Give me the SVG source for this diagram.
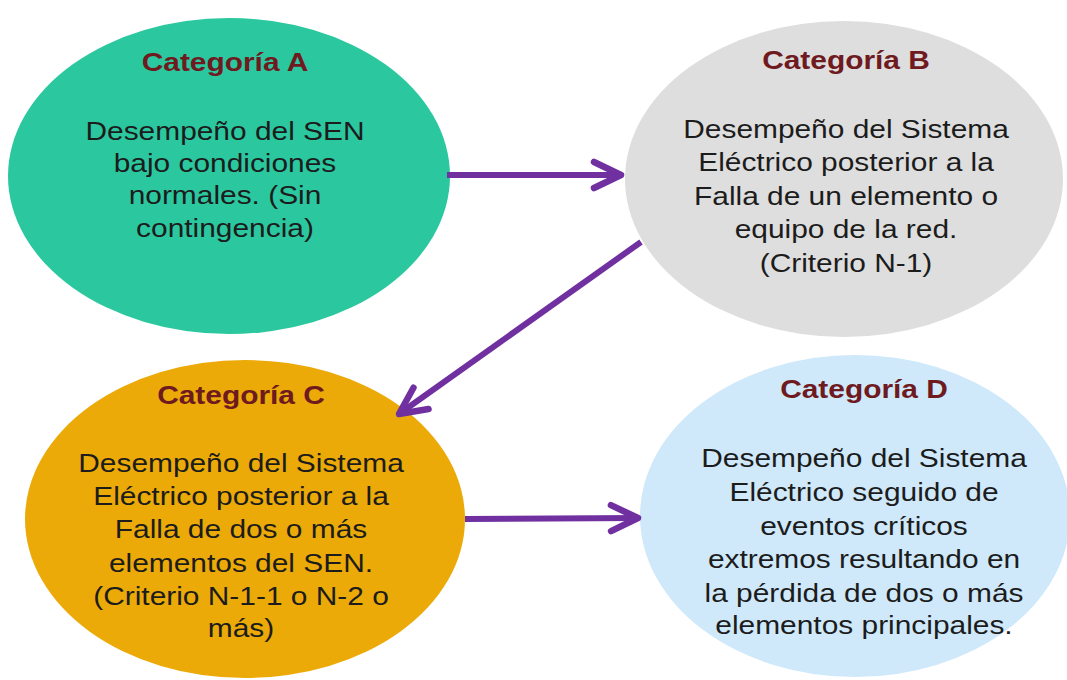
<svg xmlns="http://www.w3.org/2000/svg" width="1067" height="680" viewBox="0 0 1067 680">
  <style>
    .title { font-family: "Liberation Sans", Arial, sans-serif; font-weight: bold; font-size: 26px; fill: #6E1A1E; text-anchor: middle; }
    .body { font-family: "Liberation Sans", Arial, sans-serif; font-size: 26px; fill: #1C1C1C; text-anchor: middle; }
    .conn { stroke: #7030A0; stroke-width: 6; fill: none; stroke-linecap: butt; }
  </style>
  <defs>
    <marker id="chev" markerUnits="userSpaceOnUse" markerWidth="44" markerHeight="44" viewBox="-36 -22 44 44" refX="0" refY="0" orient="auto">
      <path d="M-27,-13 L0,0 L-27,13" fill="none" stroke="#7030A0" stroke-width="6.5" stroke-linecap="round" stroke-linejoin="round"/>
    </marker>
  </defs>
  <rect width="1067" height="680" fill="#FFFFFF"/>

  <g id="node-a">
    <ellipse cx="229" cy="176" rx="221" ry="158" fill="#2BC8A0"/>
    <g transform="translate(225,0) scale(1.15,1)">
      <text class="title" x="0" y="71">Categoría A</text>
      <text class="body" x="0" y="140">Desempeño del SEN</text>
      <text class="body" x="0" y="172">bajo condiciones</text>
      <text class="body" x="0" y="204">normales. (Sin</text>
      <text class="body" x="0" y="237">contingencia)</text>
    </g>
  </g>

  <g id="node-b">
    <ellipse cx="844" cy="179" rx="219" ry="158" fill="#DEDEDE"/>
    <g transform="translate(846,0) scale(1.15,1)">
      <text class="title" x="0" y="69">Categoría B</text>
      <text class="body" x="0" y="138">Desempeño del Sistema</text>
      <text class="body" x="0" y="171">Eléctrico posterior a la</text>
      <text class="body" x="0" y="205">Falla de un elemento o</text>
      <text class="body" x="0" y="238">equipo de la red.</text>
      <text class="body" x="0" y="272">(Criterio N-1)</text>
    </g>
  </g>

  <g id="node-c">
    <ellipse cx="245" cy="519" rx="220" ry="159" fill="#EBAA08"/>
    <g transform="translate(241,0) scale(1.15,1)">
      <text class="title" x="0" y="404">Categoría C</text>
      <text class="body" x="0" y="472">Desempeño del Sistema</text>
      <text class="body" x="0" y="505">Eléctrico posterior a la</text>
      <text class="body" x="0" y="538">Falla de dos o más</text>
      <text class="body" x="0" y="572">elementos del SEN.</text>
      <text class="body" x="0" y="605">(Criterio N-1-1 o N-2 o</text>
      <text class="body" x="0" y="637">más)</text>
    </g>
  </g>

  <g id="node-d">
    <ellipse cx="855" cy="516" rx="215" ry="161" fill="#CFE9FB"/>
    <g transform="translate(864,0) scale(1.15,1)">
      <text class="title" x="0" y="398">Categoría D</text>
      <text class="body" x="0" y="467">Desempeño del Sistema</text>
      <text class="body" x="0" y="501">Eléctrico seguido de</text>
      <text class="body" x="0" y="535">eventos críticos</text>
      <text class="body" x="0" y="568">extremos resultando en</text>
      <text class="body" x="0" y="602">la pérdida de dos o más</text>
      <text class="body" x="0" y="634">elementos principales.</text>
    </g>
  </g>

  <g id="connectors">
    <line class="conn" x1="447" y1="175" x2="621" y2="175" marker-end="url(#chev)"/>
    <line class="conn" x1="641" y1="242" x2="399" y2="414" marker-end="url(#chev)"/>
    <line class="conn" x1="465" y1="519" x2="638" y2="518" marker-end="url(#chev)"/>
  </g>
</svg>
